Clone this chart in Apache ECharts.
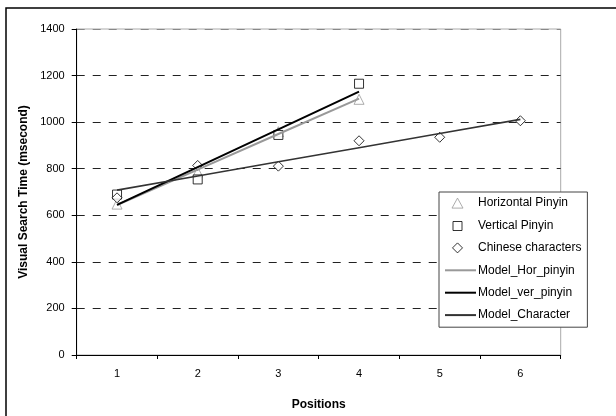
<!DOCTYPE html>
<html>
<head>
<meta charset="utf-8">
<script src="https://cdn.jsdelivr.net/npm/echarts@6/dist/echarts.min.js"></script>
<style>
html,body{margin:0;padding:0;background:#fff;}
#c{width:616px;height:416px;}
</style>
</head>
<body>
<div id="c"></div>
<script>
var positions = ['1','2','3','4','5','6'];
var yTicks = [0,200,400,600,800,1000,1200,1400];
var horPinyin = [648, 786, 959, 1098];
var verPinyin = [689, 754, 945, 1165];
var chineseChars = [675, 814, 811, 920, 935, 1006];
var modelHor = [644, 796, 949, 1101];
var modelVer = [645, 807, 969, 1131];
var modelChar = [708, 769, 830, 890, 951, 1012];

var font = 'Liberation Sans, Arial, sans-serif';
var box = 'M0,0M31,10';
var chart = echarts.init(document.getElementById('c'));
chart.setOption({
  animation: false,
  backgroundColor: '#fff',
  graphic: [{
    type: 'rect', silent: true,
    shape: {x: 6, y: 8, width: 700, height: 500},
    style: {fill: 'none', stroke: '#000', lineWidth: 1.5}
  }],
  grid: {left: 76.7, right: 55.3, top: 29, bottom: 58, show: true, borderColor: '#aaa', borderWidth: 1, backgroundColor: 'transparent'},
  legend: {
    orient: 'vertical', left: 439, top: 192,
    padding: [0, 6, 1, 5],
    backgroundColor: '#fff', borderColor: '#444', borderWidth: 1,
    itemWidth: 31, itemHeight: 10, itemGap: 0.2,
    textStyle: {fontFamily: font, fontSize: 12, color: '#000', lineHeight: 22.2, padding: [0,0,0,-3]},
    data: [
      {name: 'Horizontal Pinyin', icon: 'path://' + box + 'M12.5,0L18,10L7,10Z', itemStyle: {color: '#fff', borderColor: '#999', borderWidth: 1}},
      {name: 'Vertical Pinyin', icon: 'path://' + box + 'M8,1L17,1L17,10L8,10Z', itemStyle: {color: '#fff', borderColor: '#000', borderWidth: 1}},
      {name: 'Chinese characters', icon: 'path://' + box + 'M12.5,0L17.5,5L12.5,10L7.5,5Z', itemStyle: {color: '#fff', borderColor: '#000', borderWidth: 1}},
      {name: 'Model_Hor_pinyin', itemStyle: {opacity: 0}},
      {name: 'Model_ver_pinyin', itemStyle: {opacity: 0}},
      {name: 'Model_Character', itemStyle: {opacity: 0}}
    ]
  },
  xAxis: {
    type: 'category', data: positions, boundaryGap: true,
    name: 'Positions', nameLocation: 'middle', nameGap: 44,
    nameTextStyle: {fontFamily: font, fontSize: 12, fontWeight: 'bold', color: '#000'},
    axisLine: {lineStyle: {color: '#000', width: 1}},
    axisTick: {show: true, length: 4, lineStyle: {color: '#000'}},
    axisLabel: {fontFamily: font, fontSize: 11, color: '#000', margin: 13},
    splitLine: {show: false}
  },
  yAxis: {
    type: 'value', min: yTicks[0], max: yTicks[yTicks.length-1], interval: 200,
    name: 'Visual Search Time (msecond)', nameLocation: 'middle', nameGap: 45,
    nameTextStyle: {fontFamily: font, fontSize: 12, fontWeight: 'bold', color: '#000'},
    axisLine: {show: true, lineStyle: {color: '#000', width: 1}},
    axisTick: {show: true, length: 5, lineStyle: {color: '#000'}},
    axisLabel: {fontFamily: font, fontSize: 11, color: '#000', margin: 12, formatter: function (v) { return String(v); }},
    splitLine: {show: true, lineStyle: {color: ['#000','#222','#222','#222','#222','#222','#222','#888'], width: 1, type: [8, 8]}}
  },
  series: [
    {name: 'Model_Hor_pinyin', type: 'line', data: modelHor, symbol: 'none', z: 3,
     lineStyle: {color: '#999', width: 2}, itemStyle: {color: '#999'}},
    {name: 'Model_ver_pinyin', type: 'line', data: modelVer, symbol: 'none', z: 3,
     lineStyle: {color: '#000', width: 2}, itemStyle: {color: '#000'}},
    {name: 'Model_Character', type: 'line', data: modelChar, symbol: 'none', z: 3,
     lineStyle: {color: '#333', width: 1.6}, itemStyle: {color: '#333'}},
    {name: 'Horizontal Pinyin', type: 'scatter', data: horPinyin, symbol: 'triangle', symbolSize: 10, z: 2,
     itemStyle: {color: '#fff', borderColor: '#999', borderWidth: 1}},
    {name: 'Vertical Pinyin', type: 'scatter', data: verPinyin, symbol: 'rect', symbolSize: 9, z: 2,
     itemStyle: {color: '#fff', borderColor: '#000', borderWidth: 1}},
    {name: 'Chinese characters', type: 'scatter', data: chineseChars, symbol: 'diamond', symbolSize: 10, z: 2,
     itemStyle: {color: '#fff', borderColor: '#000', borderWidth: 1}}
  ]
});
</script>
</body>
</html>
